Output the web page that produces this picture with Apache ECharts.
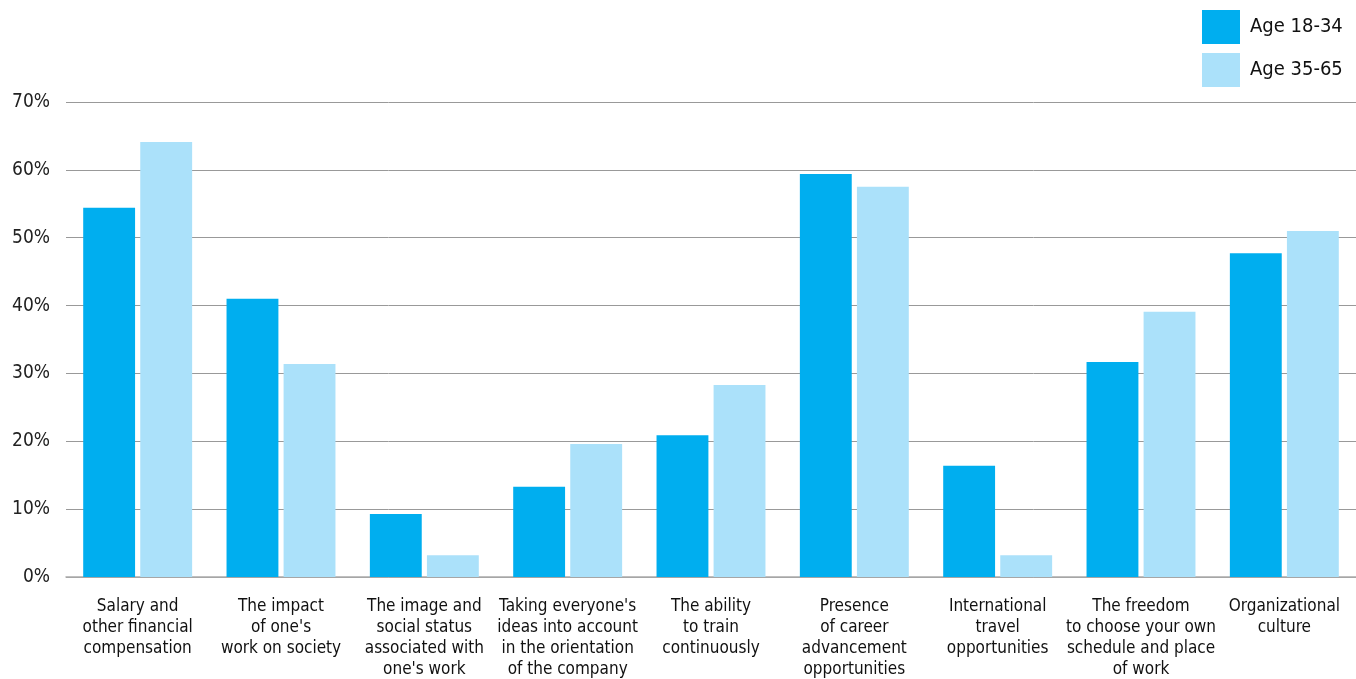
<!DOCTYPE html>
<html><head><meta charset="utf-8">
<script src="https://cdn.jsdelivr.net/npm/echarts@6/dist/echarts.min.js"></script>
<style>html,body{margin:0;padding:0;background:#fff}#c{width:1356px;height:679px}</style>
</head><body><div id="c"></div>
<script>
const categories = [
  "Salary and\nother financial\ncompensation",
  "The impact\nof one's\nwork on society",
  "The image and\nsocial status\nassociated with\none's work",
  "Taking everyone's\nideas into account\nin the orientation\nof the company",
  "The ability\nto train\ncontinuously",
  "Presence\nof career\nadvancement\nopportunities",
  "International\ntravel\nopportunities",
  "The freedom\nto choose your own\nschedule and place\nof work",
  "Organizational\nculture"
];
const age1834 = [54.4, 41.0, 9.3, 13.3, 20.9, 59.4, 16.4, 31.7, 47.7];
const age3565 = [64.1, 31.4, 3.2, 19.6, 28.3, 57.5, 3.2, 39.1, 51.0];
const seriesNames = ["Age 18-34", "Age 35-65"];
const FONT = "'DejaVu Sans Condensed','Liberation Sans Narrow',sans-serif";
const chart = echarts.init(document.getElementById('c'));
chart.setOption({
  animation: false,
  textStyle: { fontFamily: FONT },
  legend: {
    orient: 'vertical', left: 1202, top: 10, padding: 0, itemWidth: 38, itemHeight: 34, itemGap: 9,
    icon: 'rect',
    textStyle: { fontFamily: FONT, fontSize: 20, color: '#111', padding: [0, 0, 0, 5] },
    data: seriesNames
  },
  grid: { left: 66, right: 0, top: 102, bottom: 102, outerBoundsMode: 'none', containLabel: false },
  xAxis: {
    type: 'category', data: categories,
    axisLine: { lineStyle: { color: '#aaa', width: 1.5 } },
    axisTick: { show: false },
    axisLabel: { interval: 0, margin: 19, fontFamily: FONT, fontSize: 17, lineHeight: 21, color: '#111', align: 'center' }
  },
  yAxis: {
    type: 'value', min: 0, max: 70, interval: 10,
    axisLabel: { formatter: '{value}%', fontFamily: FONT, fontSize: 19, color: '#222', margin: 16 },
    splitLine: { lineStyle: { color: '#999', width: 1 } },
    axisLine: { show: false }, axisTick: { show: false }
  },
  series: [
    { name: seriesNames[0], type: 'bar', data: age1834, itemStyle: { color: '#00aeef' }, barGap: '10%', barCategoryGap: '24%' },
    { name: seriesNames[1], type: 'bar', data: age3565, itemStyle: { color: '#abe1fa' }, barGap: '10%', barCategoryGap: '24%' }
  ]
});
</script></body></html>
